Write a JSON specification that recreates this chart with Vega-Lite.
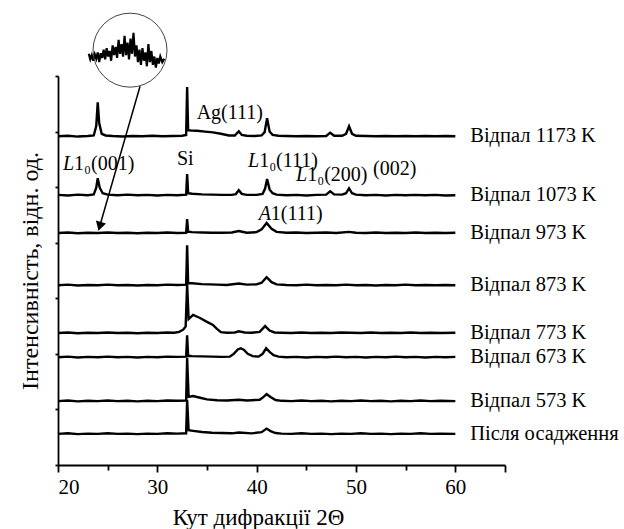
{
  "$schema": "https://vega.github.io/schema/vega-lite/v6.json",
  "width": 447,
  "height": 389,
  "autosize": {"type": "none"},
  "padding": {"left": 58, "top": 76, "right": 119, "bottom": 64},
  "background": "white",
  "config": {
    "view": {"stroke": null},
    "axis": {
      "grid": false,
      "domainColor": "black",
      "domainWidth": 1.8,
      "tickColor": "black",
      "tickWidth": 1.8,
      "labelFont": "Liberation Serif, DejaVu Serif, serif",
      "labelFontSize": 21,
      "labelColor": "black",
      "titleFont": "Liberation Serif, DejaVu Serif, serif",
      "titleFontWeight": "normal",
      "titleColor": "black"
    }
  },
  "datasets": {
    "spectra": [
      {"s":"a","x":20,"y":11.83},{"s":"a","x":21,"y":11.85},{"s":"a","x":22,"y":11.82},{"s":"a","x":23,"y":11.84},{"s":"a","x":23.6,"y":11.86},{"s":"a","x":23.85,"y":12.2},{"s":"a","x":24.0,"y":13.05},{"s":"a","x":24.15,"y":12.3},{"s":"a","x":24.4,"y":11.92},{"s":"a","x":24.8,"y":11.86},{"s":"a","x":25.5,"y":11.84},{"s":"a","x":26.5,"y":11.82},{"s":"a","x":27.5,"y":11.84},{"s":"a","x":28.5,"y":11.83},{"s":"a","x":29.5,"y":11.85},{"s":"a","x":30.5,"y":11.83},{"s":"a","x":31.5,"y":11.84},{"s":"a","x":32.5,"y":11.85},{"s":"a","x":32.9,"y":11.88},{"s":"a","x":33.0,"y":13.6},{"s":"a","x":33.1,"y":12.05},{"s":"a","x":33.4,"y":12.04},{"s":"a","x":34,"y":12.03},{"s":"a","x":34.8,"y":12.0},{"s":"a","x":35.6,"y":11.97},{"s":"a","x":36.4,"y":11.92},{"s":"a","x":37.2,"y":11.86},{"s":"a","x":37.8,"y":11.86},{"s":"a","x":38.2,"y":12.01},{"s":"a","x":38.5,"y":11.88},{"s":"a","x":39,"y":11.85},{"s":"a","x":39.8,"y":11.84},{"s":"a","x":40.5,"y":11.86},{"s":"a","x":40.8,"y":11.98},{"s":"a","x":41.05,"y":12.48},{"s":"a","x":41.3,"y":12.0},{"s":"a","x":41.6,"y":11.88},{"s":"a","x":42.2,"y":11.85},{"s":"a","x":43,"y":11.84},{"s":"a","x":44,"y":11.83},{"s":"a","x":45,"y":11.84},{"s":"a","x":46,"y":11.83},{"s":"a","x":47,"y":11.84},{"s":"a","x":47.4,"y":11.96},{"s":"a","x":47.8,"y":11.85},{"s":"a","x":48.6,"y":11.85},{"s":"a","x":49.0,"y":11.92},{"s":"a","x":49.3,"y":12.19},{"s":"a","x":49.6,"y":11.92},{"s":"a","x":50,"y":11.85},{"s":"a","x":51,"y":11.84},{"s":"a","x":52,"y":11.83},{"s":"a","x":53,"y":11.84},{"s":"a","x":54,"y":11.83},{"s":"a","x":55,"y":11.84},{"s":"a","x":56,"y":11.83},{"s":"a","x":57,"y":11.84},{"s":"a","x":58,"y":11.83},{"s":"a","x":59,"y":11.84},{"s":"a","x":60,"y":11.83},
      {"s":"b","x":20,"y":9.72},{"s":"b","x":21,"y":9.70},{"s":"b","x":22,"y":9.73},{"s":"b","x":23,"y":9.71},{"s":"b","x":23.6,"y":9.74},{"s":"b","x":23.85,"y":9.98},{"s":"b","x":24.0,"y":10.32},{"s":"b","x":24.2,"y":9.98},{"s":"b","x":24.5,"y":9.78},{"s":"b","x":25,"y":9.73},{"s":"b","x":26,"y":9.71},{"s":"b","x":27,"y":9.73},{"s":"b","x":28,"y":9.71},{"s":"b","x":29,"y":9.72},{"s":"b","x":30,"y":9.70},{"s":"b","x":31,"y":9.72},{"s":"b","x":32,"y":9.71},{"s":"b","x":32.9,"y":9.73},{"s":"b","x":33.0,"y":10.47},{"s":"b","x":33.1,"y":9.78},{"s":"b","x":33.5,"y":9.76},{"s":"b","x":34.5,"y":9.74},{"s":"b","x":35.5,"y":9.73},{"s":"b","x":36.5,"y":9.72},{"s":"b","x":37.5,"y":9.72},{"s":"b","x":37.9,"y":9.75},{"s":"b","x":38.2,"y":9.89},{"s":"b","x":38.5,"y":9.76},{"s":"b","x":39,"y":9.72},{"s":"b","x":40,"y":9.72},{"s":"b","x":40.6,"y":9.76},{"s":"b","x":40.85,"y":9.95},{"s":"b","x":41.05,"y":10.29},{"s":"b","x":41.3,"y":9.92},{"s":"b","x":41.6,"y":9.78},{"s":"b","x":42,"y":9.73},{"s":"b","x":43,"y":9.71},{"s":"b","x":44,"y":9.72},{"s":"b","x":45,"y":9.70},{"s":"b","x":46,"y":9.72},{"s":"b","x":47,"y":9.73},{"s":"b","x":47.4,"y":9.85},{"s":"b","x":47.8,"y":9.74},{"s":"b","x":48.6,"y":9.73},{"s":"b","x":49.0,"y":9.78},{"s":"b","x":49.3,"y":9.96},{"s":"b","x":49.6,"y":9.78},{"s":"b","x":50,"y":9.73},{"s":"b","x":51,"y":9.71},{"s":"b","x":52,"y":9.72},{"s":"b","x":53,"y":9.70},{"s":"b","x":54,"y":9.72},{"s":"b","x":55,"y":9.71},{"s":"b","x":56,"y":9.72},{"s":"b","x":57,"y":9.71},{"s":"b","x":58,"y":9.72},{"s":"b","x":59,"y":9.70},{"s":"b","x":60,"y":9.71},
      {"s":"c","x":20,"y":8.35},{"s":"c","x":21,"y":8.37},{"s":"c","x":22,"y":8.34},{"s":"c","x":23,"y":8.36},{"s":"c","x":24,"y":8.35},{"s":"c","x":25,"y":8.37},{"s":"c","x":26,"y":8.35},{"s":"c","x":27,"y":8.36},{"s":"c","x":28,"y":8.34},{"s":"c","x":29,"y":8.36},{"s":"c","x":30,"y":8.35},{"s":"c","x":31,"y":8.37},{"s":"c","x":32,"y":8.35},{"s":"c","x":32.9,"y":8.36},{"s":"c","x":33.0,"y":8.85},{"s":"c","x":33.1,"y":8.40},{"s":"c","x":33.5,"y":8.38},{"s":"c","x":34.5,"y":8.37},{"s":"c","x":35.5,"y":8.36},{"s":"c","x":36.5,"y":8.36},{"s":"c","x":37.5,"y":8.37},{"s":"c","x":38.2,"y":8.42},{"s":"c","x":39,"y":8.36},{"s":"c","x":40,"y":8.38},{"s":"c","x":40.5,"y":8.48},{"s":"c","x":41.0,"y":8.71},{"s":"c","x":41.5,"y":8.5},{"s":"c","x":42,"y":8.39},{"s":"c","x":43,"y":8.36},{"s":"c","x":44,"y":8.37},{"s":"c","x":45,"y":8.35},{"s":"c","x":46,"y":8.36},{"s":"c","x":47,"y":8.37},{"s":"c","x":48,"y":8.35},{"s":"c","x":49.3,"y":8.39},{"s":"c","x":50,"y":8.36},{"s":"c","x":51,"y":8.35},{"s":"c","x":52,"y":8.37},{"s":"c","x":53,"y":8.35},{"s":"c","x":54,"y":8.36},{"s":"c","x":55,"y":8.35},{"s":"c","x":56,"y":8.37},{"s":"c","x":57,"y":8.35},{"s":"c","x":58,"y":8.36},{"s":"c","x":59,"y":8.35},{"s":"c","x":60,"y":8.36},
      {"s":"d","x":20,"y":6.47},{"s":"d","x":21,"y":6.49},{"s":"d","x":22,"y":6.46},{"s":"d","x":23,"y":6.48},{"s":"d","x":24,"y":6.47},{"s":"d","x":25,"y":6.49},{"s":"d","x":26,"y":6.47},{"s":"d","x":27,"y":6.48},{"s":"d","x":28,"y":6.46},{"s":"d","x":29,"y":6.48},{"s":"d","x":30,"y":6.47},{"s":"d","x":31,"y":6.49},{"s":"d","x":32,"y":6.48},{"s":"d","x":32.9,"y":6.49},{"s":"d","x":33.0,"y":7.91},{"s":"d","x":33.1,"y":6.55},{"s":"d","x":33.5,"y":6.54},{"s":"d","x":34.5,"y":6.51},{"s":"d","x":36,"y":6.49},{"s":"d","x":37,"y":6.48},{"s":"d","x":38.2,"y":6.53},{"s":"d","x":39,"y":6.49},{"s":"d","x":40,"y":6.5},{"s":"d","x":40.5,"y":6.56},{"s":"d","x":41.0,"y":6.76},{"s":"d","x":41.5,"y":6.58},{"s":"d","x":42,"y":6.5},{"s":"d","x":43,"y":6.48},{"s":"d","x":44,"y":6.47},{"s":"d","x":45,"y":6.49},{"s":"d","x":46,"y":6.47},{"s":"d","x":47,"y":6.48},{"s":"d","x":48,"y":6.47},{"s":"d","x":49,"y":6.49},{"s":"d","x":50,"y":6.47},{"s":"d","x":51,"y":6.48},{"s":"d","x":52,"y":6.46},{"s":"d","x":53,"y":6.48},{"s":"d","x":54,"y":6.47},{"s":"d","x":55,"y":6.49},{"s":"d","x":56,"y":6.47},{"s":"d","x":57,"y":6.48},{"s":"d","x":58,"y":6.47},{"s":"d","x":59,"y":6.48},{"s":"d","x":60,"y":6.47},
      {"s":"e","x":20,"y":4.75},{"s":"e","x":21,"y":4.77},{"s":"e","x":22,"y":4.74},{"s":"e","x":23,"y":4.76},{"s":"e","x":24,"y":4.75},{"s":"e","x":25,"y":4.77},{"s":"e","x":26,"y":4.75},{"s":"e","x":27,"y":4.76},{"s":"e","x":28,"y":4.74},{"s":"e","x":29,"y":4.76},{"s":"e","x":30,"y":4.75},{"s":"e","x":31,"y":4.77},{"s":"e","x":31.7,"y":4.76},{"s":"e","x":32.2,"y":4.79},{"s":"e","x":32.6,"y":4.87},{"s":"e","x":32.85,"y":4.98},{"s":"e","x":33.0,"y":6.5},{"s":"e","x":33.15,"y":5.25},{"s":"e","x":33.6,"y":5.40},{"s":"e","x":34.3,"y":5.29},{"s":"e","x":35.0,"y":5.15},{"s":"e","x":35.6,"y":5.04},{"s":"e","x":36.0,"y":4.9},{"s":"e","x":36.4,"y":4.78},{"s":"e","x":37,"y":4.76},{"s":"e","x":37.8,"y":4.77},{"s":"e","x":38.2,"y":4.81},{"s":"e","x":38.8,"y":4.77},{"s":"e","x":39.5,"y":4.76},{"s":"e","x":40.3,"y":4.79},{"s":"e","x":40.85,"y":5.0},{"s":"e","x":41.3,"y":4.84},{"s":"e","x":41.8,"y":4.77},{"s":"e","x":42.5,"y":4.76},{"s":"e","x":43.5,"y":4.75},{"s":"e","x":44.5,"y":4.77},{"s":"e","x":45.5,"y":4.75},{"s":"e","x":46.5,"y":4.76},{"s":"e","x":47.5,"y":4.75},{"s":"e","x":48.5,"y":4.77},{"s":"e","x":49.5,"y":4.76},{"s":"e","x":50.5,"y":4.75},{"s":"e","x":51.5,"y":4.77},{"s":"e","x":52.5,"y":4.75},{"s":"e","x":53.5,"y":4.76},{"s":"e","x":54.5,"y":4.75},{"s":"e","x":55.5,"y":4.77},{"s":"e","x":56.5,"y":4.75},{"s":"e","x":57.5,"y":4.76},{"s":"e","x":58.5,"y":4.75},{"s":"e","x":60,"y":4.76},
      {"s":"f","x":20,"y":3.88},{"s":"f","x":21,"y":3.9},{"s":"f","x":22,"y":3.87},{"s":"f","x":23,"y":3.89},{"s":"f","x":24,"y":3.88},{"s":"f","x":25,"y":3.9},{"s":"f","x":26,"y":3.88},{"s":"f","x":27,"y":3.89},{"s":"f","x":28,"y":3.87},{"s":"f","x":29,"y":3.89},{"s":"f","x":30,"y":3.88},{"s":"f","x":31,"y":3.9},{"s":"f","x":32,"y":3.89},{"s":"f","x":32.9,"y":3.9},{"s":"f","x":33.0,"y":4.67},{"s":"f","x":33.1,"y":3.93},{"s":"f","x":33.5,"y":3.92},{"s":"f","x":34.5,"y":3.91},{"s":"f","x":35.5,"y":3.9},{"s":"f","x":36.5,"y":3.89},{"s":"f","x":37.3,"y":3.9},{"s":"f","x":37.7,"y":4.0},{"s":"f","x":38.1,"y":4.16},{"s":"f","x":38.4,"y":4.2},{"s":"f","x":38.7,"y":4.15},{"s":"f","x":39.1,"y":4.0},{"s":"f","x":39.6,"y":3.92},{"s":"f","x":40.2,"y":3.9},{"s":"f","x":40.6,"y":4.0},{"s":"f","x":40.95,"y":4.2},{"s":"f","x":41.3,"y":4.07},{"s":"f","x":41.7,"y":3.95},{"s":"f","x":42.2,"y":3.9},{"s":"f","x":43,"y":3.88},{"s":"f","x":44,"y":3.89},{"s":"f","x":45,"y":3.87},{"s":"f","x":46,"y":3.89},{"s":"f","x":47,"y":3.88},{"s":"f","x":48,"y":3.9},{"s":"f","x":49,"y":3.88},{"s":"f","x":50,"y":3.89},{"s":"f","x":51,"y":3.87},{"s":"f","x":52,"y":3.89},{"s":"f","x":53,"y":3.88},{"s":"f","x":54,"y":3.9},{"s":"f","x":55,"y":3.88},{"s":"f","x":56,"y":3.89},{"s":"f","x":57,"y":3.87},{"s":"f","x":58,"y":3.89},{"s":"f","x":59,"y":3.88},{"s":"f","x":60,"y":3.89},
      {"s":"g","x":20,"y":2.3},{"s":"g","x":21,"y":2.32},{"s":"g","x":22,"y":2.29},{"s":"g","x":23,"y":2.31},{"s":"g","x":24,"y":2.3},{"s":"g","x":25,"y":2.32},{"s":"g","x":26,"y":2.3},{"s":"g","x":27,"y":2.31},{"s":"g","x":28,"y":2.29},{"s":"g","x":29,"y":2.31},{"s":"g","x":30,"y":2.3},{"s":"g","x":31,"y":2.32},{"s":"g","x":32,"y":2.31},{"s":"g","x":32.9,"y":2.32},{"s":"g","x":33.0,"y":3.85},{"s":"g","x":33.15,"y":2.45},{"s":"g","x":33.6,"y":2.48},{"s":"g","x":34.3,"y":2.42},{"s":"g","x":35,"y":2.36},{"s":"g","x":36,"y":2.33},{"s":"g","x":37,"y":2.32},{"s":"g","x":38.2,"y":2.35},{"s":"g","x":39,"y":2.32},{"s":"g","x":40.3,"y":2.35},{"s":"g","x":40.7,"y":2.45},{"s":"g","x":41.0,"y":2.55},{"s":"g","x":41.4,"y":2.45},{"s":"g","x":41.9,"y":2.34},{"s":"g","x":42.5,"y":2.31},{"s":"g","x":43.5,"y":2.3},{"s":"g","x":44.5,"y":2.32},{"s":"g","x":45.5,"y":2.3},{"s":"g","x":46.5,"y":2.31},{"s":"g","x":47.5,"y":2.29},{"s":"g","x":48.5,"y":2.31},{"s":"g","x":49.5,"y":2.3},{"s":"g","x":50.5,"y":2.32},{"s":"g","x":51.5,"y":2.3},{"s":"g","x":52.5,"y":2.31},{"s":"g","x":53.5,"y":2.29},{"s":"g","x":54.5,"y":2.31},{"s":"g","x":55.5,"y":2.3},{"s":"g","x":56.5,"y":2.32},{"s":"g","x":57.5,"y":2.3},{"s":"g","x":58.5,"y":2.31},{"s":"g","x":60,"y":2.3},
      {"s":"h","x":20,"y":1.12},{"s":"h","x":21,"y":1.14},{"s":"h","x":22,"y":1.11},{"s":"h","x":23,"y":1.13},{"s":"h","x":24,"y":1.12},{"s":"h","x":25,"y":1.14},{"s":"h","x":26,"y":1.12},{"s":"h","x":27,"y":1.13},{"s":"h","x":28,"y":1.11},{"s":"h","x":29,"y":1.13},{"s":"h","x":30,"y":1.12},{"s":"h","x":31,"y":1.14},{"s":"h","x":32,"y":1.13},{"s":"h","x":32.9,"y":1.14},{"s":"h","x":33.0,"y":2.35},{"s":"h","x":33.15,"y":1.25},{"s":"h","x":33.6,"y":1.23},{"s":"h","x":34.5,"y":1.19},{"s":"h","x":35.5,"y":1.16},{"s":"h","x":36.5,"y":1.15},{"s":"h","x":37.5,"y":1.14},{"s":"h","x":38.2,"y":1.17},{"s":"h","x":39.5,"y":1.14},{"s":"h","x":40.5,"y":1.18},{"s":"h","x":41.0,"y":1.31},{"s":"h","x":41.4,"y":1.22},{"s":"h","x":41.9,"y":1.15},{"s":"h","x":42.5,"y":1.13},{"s":"h","x":43.5,"y":1.12},{"s":"h","x":44.5,"y":1.14},{"s":"h","x":45.5,"y":1.12},{"s":"h","x":46.5,"y":1.13},{"s":"h","x":47.5,"y":1.11},{"s":"h","x":48.5,"y":1.13},{"s":"h","x":49.5,"y":1.12},{"s":"h","x":50.5,"y":1.14},{"s":"h","x":51.5,"y":1.12},{"s":"h","x":52.5,"y":1.13},{"s":"h","x":53.5,"y":1.11},{"s":"h","x":54.5,"y":1.13},{"s":"h","x":55.5,"y":1.12},{"s":"h","x":56.5,"y":1.14},{"s":"h","x":57.5,"y":1.12},{"s":"h","x":58.5,"y":1.13},{"s":"h","x":60,"y":1.12}
    ],
    "inset": [
      {"x":23.1,"y":14.8},{"x":23.25,"y":14.6},{"x":23.4,"y":14.75},{"x":23.55,"y":14.55},{"x":23.7,"y":14.78},{"x":23.85,"y":14.62},{"x":24.0,"y":14.85},{"x":24.15,"y":14.5},{"x":24.3,"y":14.82},{"x":24.45,"y":14.65},{"x":24.6,"y":14.95},{"x":24.75,"y":14.6},{"x":24.9,"y":15.0},{"x":25.05,"y":14.7},{"x":25.2,"y":14.9},{"x":25.35,"y":14.55},{"x":25.5,"y":15.1},{"x":25.65,"y":14.75},{"x":25.8,"y":15.05},{"x":25.95,"y":14.65},{"x":26.1,"y":15.3},{"x":26.25,"y":14.8},{"x":26.4,"y":15.15},{"x":26.55,"y":14.7},{"x":26.7,"y":15.45},{"x":26.85,"y":14.75},{"x":27.0,"y":15.2},{"x":27.15,"y":14.6},{"x":27.3,"y":15.35},{"x":27.45,"y":14.8},{"x":27.6,"y":15.55},{"x":27.75,"y":14.7},{"x":27.9,"y":15.1},{"x":28.05,"y":14.5},{"x":28.2,"y":14.95},{"x":28.35,"y":14.4},{"x":28.5,"y":15.0},{"x":28.65,"y":14.55},{"x":28.8,"y":14.85},{"x":28.95,"y":14.35},{"x":29.1,"y":15.15},{"x":29.25,"y":14.5},{"x":29.4,"y":14.9},{"x":29.55,"y":14.4},{"x":29.7,"y":14.7},{"x":29.85,"y":14.3},{"x":30.0,"y":14.65},{"x":30.15,"y":14.45},{"x":30.3,"y":14.7},{"x":30.5,"y":14.5},{"x":30.7,"y":14.62}
    ],
    "circle": [{"x":27.25,"y":14.93}],
    "arrow": [{"x":28.26,"y":13.63,"x2":24.2,"y2":8.59}],
    "head": [{"x":24.2,"y":8.59}],
    "italic": [
      {"t":"L","x":20.5,"y":10.62},
      {"t":"L","x":39.13,"y":10.72},
      {"t":"L","x":43.97,"y":10.22},
      {"t":"A","x":40.2,"y":8.81}
    ],
    "normal": [
      {"t":"1₀(001)","x":21.62,"y":10.62},
      {"t":"1₀(111)","x":40.25,"y":10.72},
      {"t":"1₀(200)","x":45.09,"y":10.22},
      {"t":"1(111)","x":41.43,"y":8.81},
      {"t":"Ag(111)","x":33.96,"y":12.45},
      {"t":"(002)","x":51.72,"y":10.45},
      {"t":"Si","x":31.98,"y":10.79}
    ],
    "labels": [
      {"t":"Відпал 1173 K","x":61.5,"y":11.83},
      {"t":"Відпал 1073 K","x":61.5,"y":9.71},
      {"t":"Відпал 973 K","x":61.5,"y":8.35},
      {"t":"Відпал 873 K","x":61.5,"y":6.47},
      {"t":"Відпал 773 K","x":61.5,"y":4.75},
      {"t":"Відпал 673 K","x":61.5,"y":3.88},
      {"t":"Відпал 573 K","x":61.5,"y":2.30},
      {"t":"Після осадження","x":61.5,"y":1.12}
    ]
  },
  "layer": [
    {
      "data": {"name": "spectra"},
      "mark": {"type": "line", "color": "black", "strokeWidth": 2.4},
      "encoding": {
        "x": {
          "field": "x", "type": "quantitative",
          "scale": {"domain": [20, 65], "nice": false, "zero": false},
          "axis": {
            "title": "Кут дифракції 2Θ",
            "titleFontSize": 23,
            "values": [20, 25, 30, 35, 40, 45, 50, 55, 60, 65],
            "labelExpr": "datum.value % 10 === 0 && datum.value < 65 ? datum.label : ''",
            "tickSize": {"condition": {"test": "datum.value % 10 === 0 || datum.value === 65", "value": 7}, "value": 5},
            "labelPadding": 4,
            "titlePadding": 9,
            "titleX": 200
          }
        },
        "y": {
          "field": "y", "type": "quantitative",
          "scale": {"domain": [0, 14], "nice": false, "zero": false},
          "axis": {
            "title": "Інтенсивність, відн. од.",
            "titleFontSize": 24,
            "values": [0, 1, 2, 3, 4, 5, 6, 7, 8, 9, 10, 11, 12, 13, 14],
            "labels": false,
            "tickSize": {"condition": {"test": "datum.value % 2 === 1", "value": 6}, "value": 3},
            "titlePadding": 12
          }
        },
        "detail": {"field": "s", "type": "nominal"}
      }
    },
    {
      "data": {"name": "inset"},
      "mark": {"type": "line", "color": "black", "strokeWidth": 2.2},
      "encoding": {
        "x": {"field": "x", "type": "quantitative"},
        "y": {"field": "y", "type": "quantitative"}
      }
    },
    {
      "data": {"name": "circle"},
      "mark": {"type": "point", "shape": "circle", "filled": false, "stroke": "#444444", "strokeWidth": 1, "size": 5476, "opacity": 1},
      "encoding": {
        "x": {"field": "x", "type": "quantitative"},
        "y": {"field": "y", "type": "quantitative"}
      }
    },
    {
      "data": {"name": "arrow"},
      "mark": {"type": "rule", "color": "black", "strokeWidth": 1.5},
      "encoding": {
        "x": {"field": "x", "type": "quantitative"},
        "y": {"field": "y", "type": "quantitative"},
        "x2": {"field": "x2"},
        "y2": {"field": "y2"}
      }
    },
    {
      "data": {"name": "head"},
      "mark": {"type": "point", "shape": "triangle-up", "filled": true, "color": "black", "size": 110, "angle": 196, "opacity": 1},
      "encoding": {
        "x": {"field": "x", "type": "quantitative"},
        "y": {"field": "y", "type": "quantitative"}
      }
    },
    {
      "data": {"name": "italic"},
      "mark": {"type": "text", "font": "Liberation Serif, DejaVu Serif, serif", "fontSize": 20, "fontStyle": "italic", "align": "left", "baseline": "alphabetic", "color": "black"},
      "encoding": {
        "x": {"field": "x", "type": "quantitative"},
        "y": {"field": "y", "type": "quantitative"},
        "text": {"field": "t"}
      }
    },
    {
      "data": {"name": "normal"},
      "mark": {"type": "text", "font": "Liberation Serif, DejaVu Serif, serif", "fontSize": 20, "align": "left", "baseline": "alphabetic", "color": "black"},
      "encoding": {
        "x": {"field": "x", "type": "quantitative"},
        "y": {"field": "y", "type": "quantitative"},
        "text": {"field": "t"}
      }
    },
    {
      "data": {"name": "labels"},
      "mark": {"type": "text", "font": "Liberation Serif, DejaVu Serif, serif", "fontSize": 20.5, "align": "left", "baseline": "middle", "color": "black"},
      "encoding": {
        "x": {"field": "x", "type": "quantitative"},
        "y": {"field": "y", "type": "quantitative"},
        "text": {"field": "t"}
      }
    }
  ]
}
